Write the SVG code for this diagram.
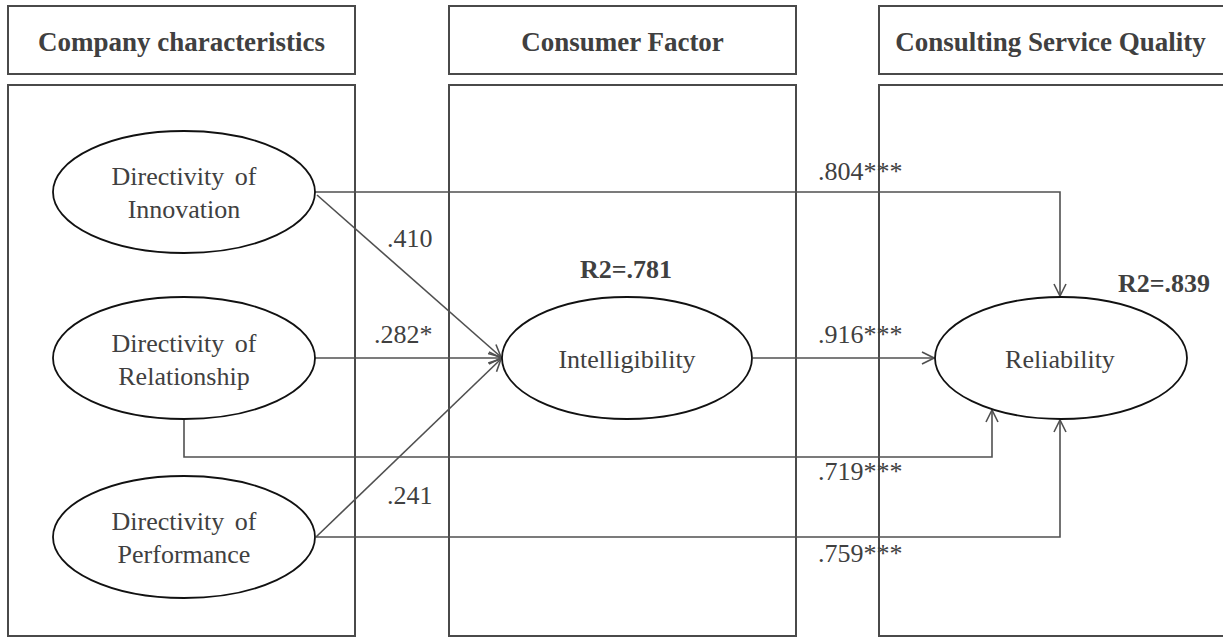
<svg xmlns="http://www.w3.org/2000/svg" width="1223" height="637" viewBox="0 0 1223 637">
<style>
.box{fill:none;stroke:#4a4a4a;stroke-width:2}
.hdr{font-family:"Liberation Serif",serif;font-weight:bold;font-size:27px;fill:#404040;text-anchor:middle}
.ell{fill:#fff;stroke:#111;stroke-width:1.8}
.lbl{font-family:"Liberation Serif",serif;font-size:26px;fill:#404040;text-anchor:middle}
.num{font-family:"Liberation Serif",serif;font-size:26px;fill:#404040}
.r2{font-family:"Liberation Serif",serif;font-weight:bold;font-size:26px;fill:#404040}
.con{fill:none;stroke:#505050;stroke-width:1.6}
</style>
<defs>
<marker id="arr" markerUnits="userSpaceOnUse" markerWidth="14" markerHeight="14" viewBox="0 0 14 14" refX="13" refY="7" orient="auto">
<path d="M1,1 L13,7 L1,13" fill="none" stroke="#505050" stroke-width="1.6"/>
</marker>
</defs>
<rect width="1223" height="637" fill="#fff"/>
<g id="columns">
<rect class="box" x="8" y="6" width="347" height="68"/>
<text class="hdr" x="181.5" y="51">Company characteristics</text>
<rect class="box" x="8" y="85" width="347" height="551"/>
<rect class="box" x="449" y="6" width="347" height="68"/>
<text class="hdr" x="622.5" y="51">Consumer Factor</text>
<rect class="box" x="449" y="85" width="347" height="551"/>
<rect class="box" x="879" y="6" width="360" height="68"/>
<text class="hdr" x="1050.5" y="51">Consulting Service Quality</text>
<rect class="box" x="879" y="85" width="360" height="551"/>
</g>
<g id="connectors">
<polyline class="con" points="315,192 1060,192 1060,296" marker-end="url(#arr)"/>
<line class="con" x1="317" y1="195" x2="501" y2="357" marker-end="url(#arr)"/>
<line class="con" x1="315" y1="358" x2="501" y2="358" marker-end="url(#arr)"/>
<line class="con" x1="316" y1="537" x2="501" y2="359" marker-end="url(#arr)"/>
<polyline class="con" points="184,420 184,457 992,457 992,410" marker-end="url(#arr)"/>
<polyline class="con" points="316,537 1060,537 1060,420" marker-end="url(#arr)"/>
<line class="con" x1="753" y1="358" x2="934" y2="358" marker-end="url(#arr)"/>
<text class="num" x="818" y="180">.804***</text>
<text class="num" x="387" y="247">.410</text>
<text class="num" x="374" y="343">.282*</text>
<text class="num" x="818" y="343">.916***</text>
<text class="num" x="818" y="480">.719***</text>
<text class="num" x="387" y="504">.241</text>
<text class="num" x="818" y="562">.759***</text>
</g>
<g id="innovation">
<ellipse class="ell" cx="184" cy="192" rx="131" ry="61"/>
<text class="lbl" x="184" y="185" word-spacing="4">Directivity of</text>
<text class="lbl" x="184" y="218">Innovation</text>
</g>
<g id="relationship">
<ellipse class="ell" cx="184" cy="358" rx="131" ry="61"/>
<text class="lbl" x="184" y="352" word-spacing="4">Directivity of</text>
<text class="lbl" x="184" y="385">Relationship</text>
</g>
<g id="performance">
<ellipse class="ell" cx="184" cy="537" rx="131" ry="61"/>
<text class="lbl" x="184" y="530" word-spacing="4">Directivity of</text>
<text class="lbl" x="184" y="563">Performance</text>
</g>
<g id="intelligibility">
<ellipse class="ell" cx="627" cy="358" rx="125" ry="61"/>
<text class="lbl" x="627" y="368">Intelligibility</text>
<text class="r2" x="626" y="278" text-anchor="middle">R2=.781</text>
</g>
<g id="reliability">
<ellipse class="ell" cx="1061" cy="358" rx="126" ry="61"/>
<text class="lbl" x="1060" y="368">Reliability</text>
<text class="r2" x="1118" y="292">R2=.839</text>
</g>
</svg>
